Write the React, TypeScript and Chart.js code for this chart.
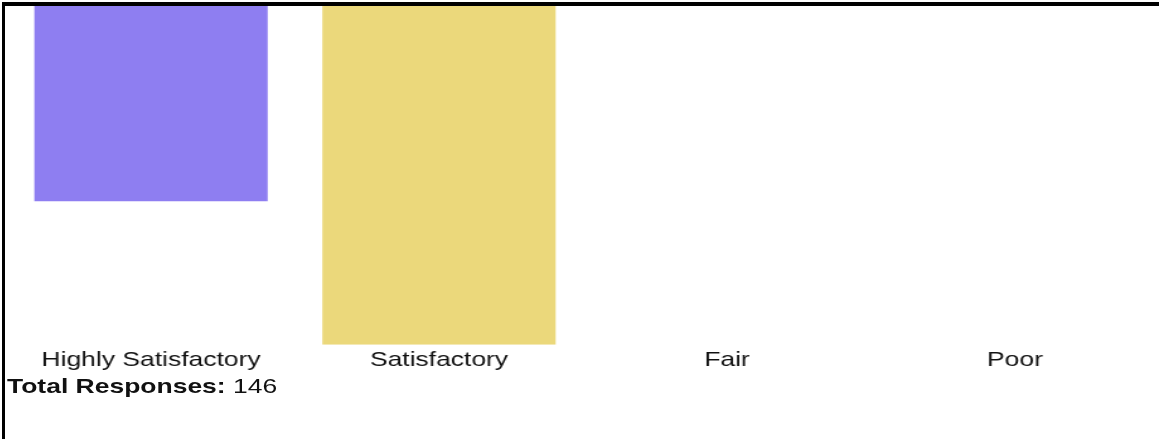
import React, { useEffect, useRef } from "react";
import { Chart, registerables } from "chart.js";

Chart.register(...registerables);

const categories = ["Highly Satisfactory", "Satisfactory", "Fair", "Poor"];
const responses = [53, 92, 0, 0];
const barColors = ["#8E7EF1", "#EBD87B", "#F08080", "#87CEEB"];
const totalResponses = 146;
const yMax = 92;

const FONT = "Arial, Helvetica, 'Liberation Sans', sans-serif";
const SX = 1152 / 914;

export default function App() {
  const ref = useRef<HTMLCanvasElement | null>(null);

  useEffect(() => {
    document.body.style.margin = "0";
    document.body.style.overflow = "hidden";
    const ctx = ref.current;
    if (!ctx) return;
    const chart = new Chart(ctx, {
      type: "bar",
      data: {
        labels: categories,
        datasets: [
          {
            data: responses,
            backgroundColor: barColors,
            borderWidth: 0,
            barPercentage: 0.9,
            categoryPercentage: 0.9,
          },
        ],
      },
      options: {
        animation: false,
        responsive: false,
        maintainAspectRatio: false,
        layout: { padding: 0 },
        plugins: {
          legend: { display: false },
          tooltip: { enabled: false },
        },
        scales: {
          x: {
            grid: { display: false, drawTicks: false },
            border: { display: false },
            ticks: {
              color: "#111",
              padding: 3,
              font: { family: FONT, size: 21 },
            },
          },
          y: {
            display: false,
            reverse: true,
            min: 0,
            max: yMax,
          },
        },
      },
    });
    return () => chart.destroy();
  }, []);

  return (
    <div
      style={{
        position: "fixed",
        left: 0,
        top: 0,
        width: 1159,
        height: 439,
        overflow: "hidden",
        background: "#fff",
      }}
    >
      <div
        style={{
          position: "absolute",
          left: 2,
          top: 2,
          width: 1200,
          height: 500,
          borderTop: "4px solid #000",
          borderLeft: "3px solid #000",
        }}
      >
        <div
          style={{
            position: "absolute",
            left: 2,
            top: 0,
            width: 914,
            height: 370,
            transform: `scaleX(${SX})`,
            transformOrigin: "0 0",
          }}
        >
          <canvas
            ref={ref}
            width={914}
            height={370}
            style={{ display: "block", width: 914, height: 370 }}
          />
        </div>
        <div
          style={{
            position: "absolute",
            left: 2,
            top: 368,
            fontFamily: FONT,
            fontSize: 21,
            color: "#111",
            whiteSpace: "nowrap",
            transform: `scaleX(${SX})`,
            transformOrigin: "0 0",
          }}
        >
          <b>Total Responses:</b> {totalResponses}
        </div>
      </div>
    </div>
  );
}
